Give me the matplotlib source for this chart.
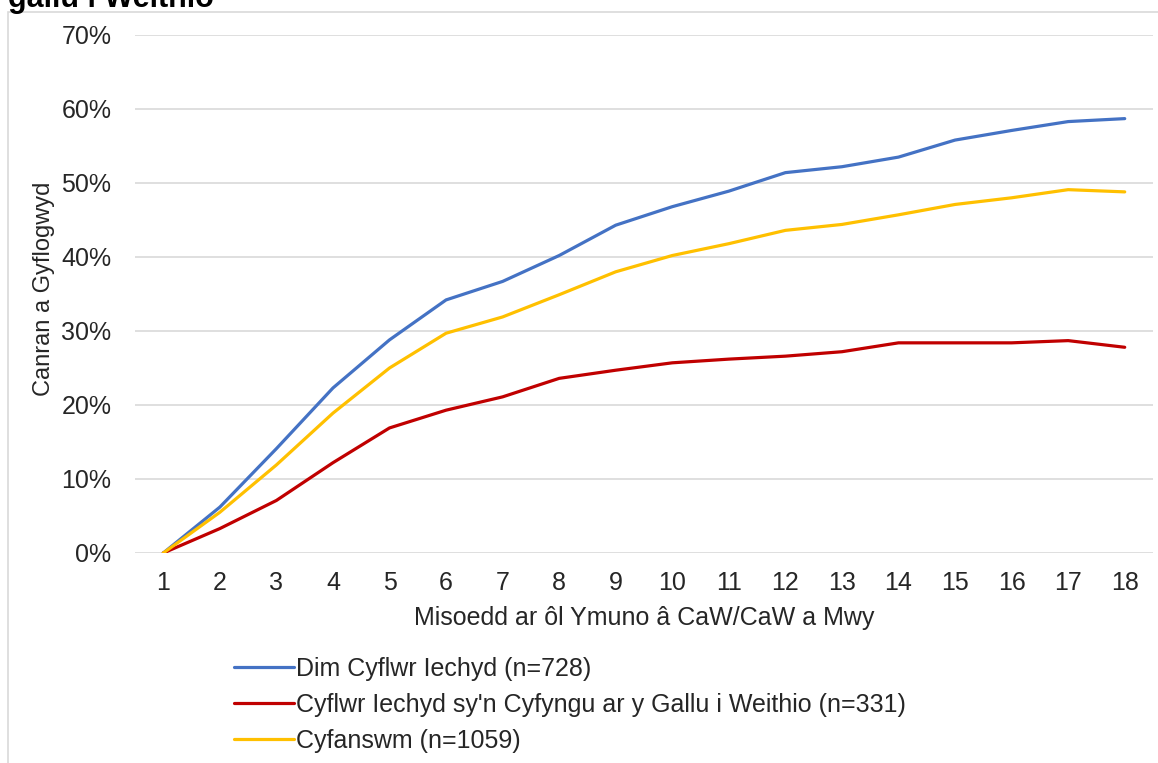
import matplotlib
matplotlib.use("Agg")
import matplotlib.pyplot as plt
from matplotlib.patches import Rectangle
from matplotlib.ticker import FuncFormatter

plt.rcParams['font.family'] = ['Liberation Sans', 'DejaVu Sans']

# months after joining
months = list(range(1, 19))

# percentage in employment
dim_cyflwr = [0, 6.2, 14.1, 22.3, 28.8, 34.2, 36.7, 40.2, 44.3, 46.8,
              48.9, 51.4, 52.2, 53.5, 55.8, 57.1, 58.3, 58.7]
cyflwr_cyfyngu = [0, 3.3, 7.1, 12.2, 16.9, 19.3, 21.1, 23.6, 24.7, 25.7,
                  26.2, 26.6, 27.2, 28.4, 28.4, 28.4, 28.7, 27.8]
cyfanswm = [0, 5.5, 11.9, 18.9, 25.0, 29.7, 31.9, 34.9, 38.0, 40.2,
            41.8, 43.6, 44.4, 45.7, 47.1, 48.0, 49.1, 48.8]

labels = ["Dim Cyflwr Iechyd (n=728)",
          "Cyflwr Iechyd sy'n Cyfyngu ar y Gallu i Weithio (n=331)",
          "Cyfanswm (n=1059)"]
colors = ["#4472C4", "#C00000", "#FFC000"]

W, H = 1158, 763
FS = 18
TXT = "#262626"
fig = plt.figure(figsize=(W / 100, H / 100), dpi=100)

# chart frame (runs off the right/bottom edge)
fig.patches.append(Rectangle((8 / W, -0.05), 1.2, 1 - 12 / H + 0.05,
                             transform=fig.transFigure, fill=False,
                             edgecolor="#d9d9d9", linewidth=1.2))

# cut-off title line at top, as in the source image
fig.text(8 / W, 1 - 7 / H, "gallu i Weithio", fontsize=22, fontweight="bold",
         ha="left", va="baseline")

ax = fig.add_axes([135 / W, (H - 553) / H, (1153 - 135) / W, (553 - 35) / H])

for vals, lab, col in zip([dim_cyflwr, cyflwr_cyfyngu, cyfanswm], labels, colors):
    ax.plot(months, vals, color=col, linewidth=2.3, label=lab, solid_capstyle="round")

ax.set_xlim(0.5, 18.5)
ax.set_ylim(0, 70)
ax.set_xticks(months)
ax.set_yticks(range(0, 71, 10))
ax.yaxis.set_major_formatter(FuncFormatter(lambda v, p: f"{v:.0f}%"))
ax.grid(axis="y", color="#d9d9d9", linewidth=1.2)
ax.set_axisbelow(True)
for s in ax.spines.values():
    s.set_visible(False)
ax.tick_params(length=0, labelsize=FS, colors=TXT)
ax.tick_params(axis="y", pad=17)
ax.tick_params(axis="x", pad=13)

ax.set_xlabel("Misoedd ar ôl Ymuno â CaW/CaW a Mwy", fontsize=FS,
              color=TXT, labelpad=8)
ax.set_ylabel("Canran a Gyflogwyd", fontsize=17, color=TXT)
ax.yaxis.set_label_coords(-80 / 1018, 0.51)

leg = fig.legend(loc="upper left", bbox_to_anchor=(224 / W, 1 - 647 / H),
                 frameon=False, fontsize=FS, handlelength=2.4,
                 handletextpad=0.1, labelspacing=0.48, borderaxespad=0)
for t in leg.get_texts():
    t.set_color(TXT)

fig.savefig("out.png", dpi=100)
